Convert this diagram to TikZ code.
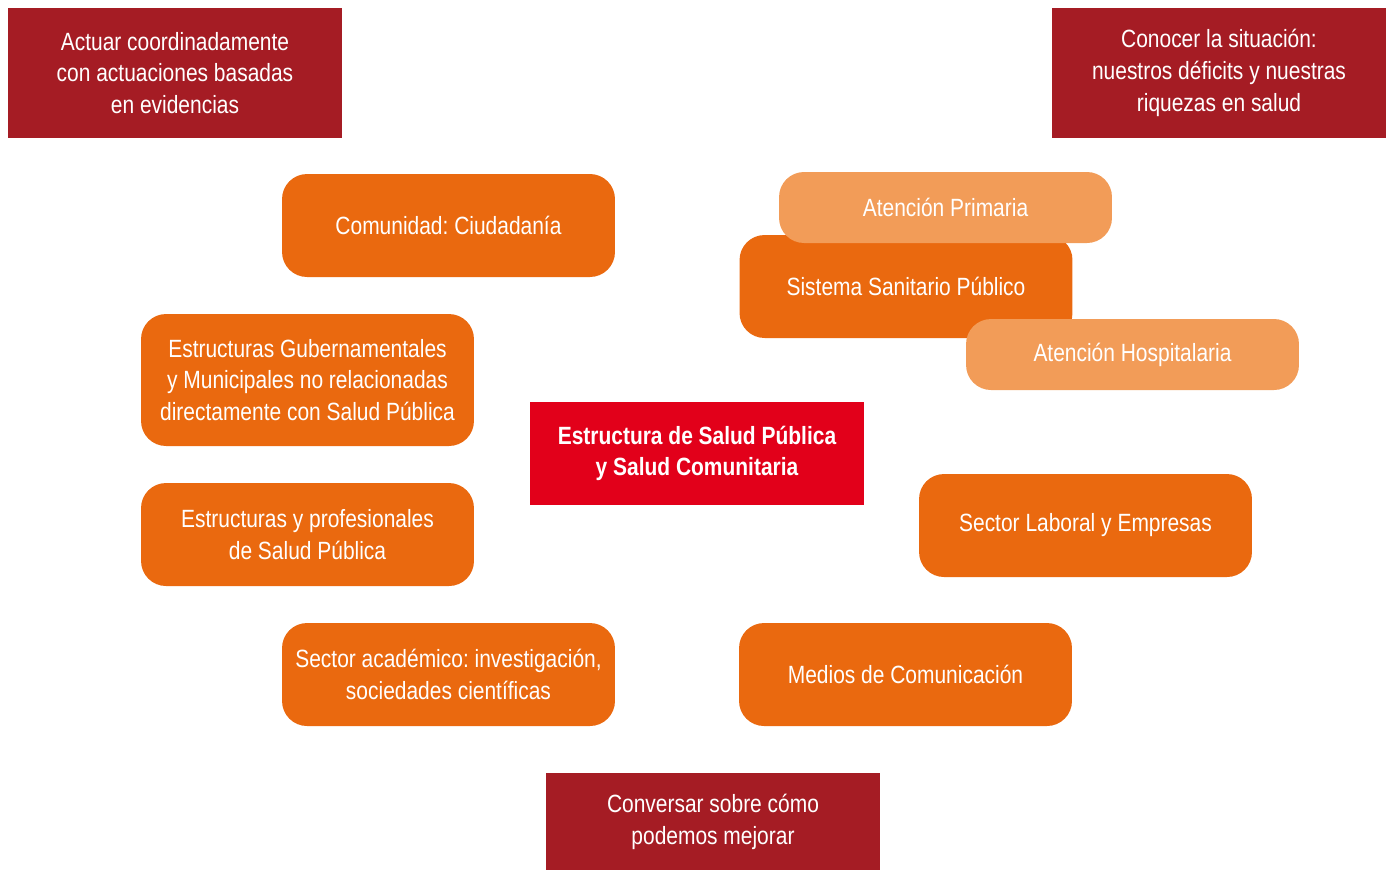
\documentclass[tikz,border=0pt]{standalone}
\usepackage{fontspec}
\setmainfont[FakeStretch=0.84]{Liberation Sans}
\frenchspacing
\definecolor{goalred}{HTML}{A51C24}
\definecolor{corered}{HTML}{E2001A}
\definecolor{agentorange}{HTML}{EA690F}
\definecolor{subamber}{HTML}{F29C58}
\begin{document}
\begin{tikzpicture}
[x=0.02cm,y=-0.02cm,%
  goalbox/.style={fill=goalred,text=white,minimum width=6.68cm,inner sep=0pt,
    align=center,font=\fontsize{14.2}{18.1}\selectfont},
  corebox/.style={goalbox,fill=corered,font=\fontsize{14.2}{18.1}\selectfont\bfseries},
  agentbox/.style={goalbox,fill=agentorange,rounded corners=0.5cm,minimum width=6.66cm},
  subbox/.style={agentbox,fill=subamber,minimum height=1.42cm}]
\useasboundingbox (0,0) rectangle (1391,870);
%% aims in the corners
\foreach \nodename/\x/\y/\h/\label in {actuar/175/73/2.6/{Actuar coordinadamente\\con actuaciones basadas\\en evidencias},
  conocer/1219/73/2.6/{Conocer la situación:\\nuestros déficits y nuestras\\riquezas en salud},
  conversar/713/821.5/1.94/{Conversar sobre cómo\\podemos mejorar}} {
  \node (\nodename) at (\x,\y) [goalbox,minimum height=\h cm] {\label};
}
%% the core
\node (estructura) at (697,453.5) [corebox,minimum height=2.06cm]
  {Estructura de Salud Pública\\y Salud Comunitaria};
%% agents round the core
\foreach \nodename/\x/\y/\h/\label in {comunidad/448.5/225.5/2.06/{Comunidad: Ciudadanía},
  gubernamental/307.5/380/2.64/{Estructuras Gubernamentales\\y Municipales no relacionadas\\directamente con Salud Pública},
  saludpublica/307.5/534.5/2.06/{Estructuras y profesionales\\de Salud Pública},
  academia/448.5/674.5/2.06/{Sector académico: investigación,\\sociedades científicas},
  sanitario/906/286.5/2.06/{Sistema Sanitario Público},
  laboral/1085.5/525.5/2.06/{Sector Laboral y Empresas},
  medios/905.5/674.5/2.06/{Medios de Comunicación}} {
  \node (\nodename) at (\x,\y) [agentbox,minimum height=\h cm] {\label};
}
%% levels of the health system
\node (primaria) at (945.5,207.5) [subbox] {Atención Primaria};
\node (hospitalaria) at (1132.5,354.5) [subbox] {Atención Hospitalaria};
\end{tikzpicture}
\end{document}
